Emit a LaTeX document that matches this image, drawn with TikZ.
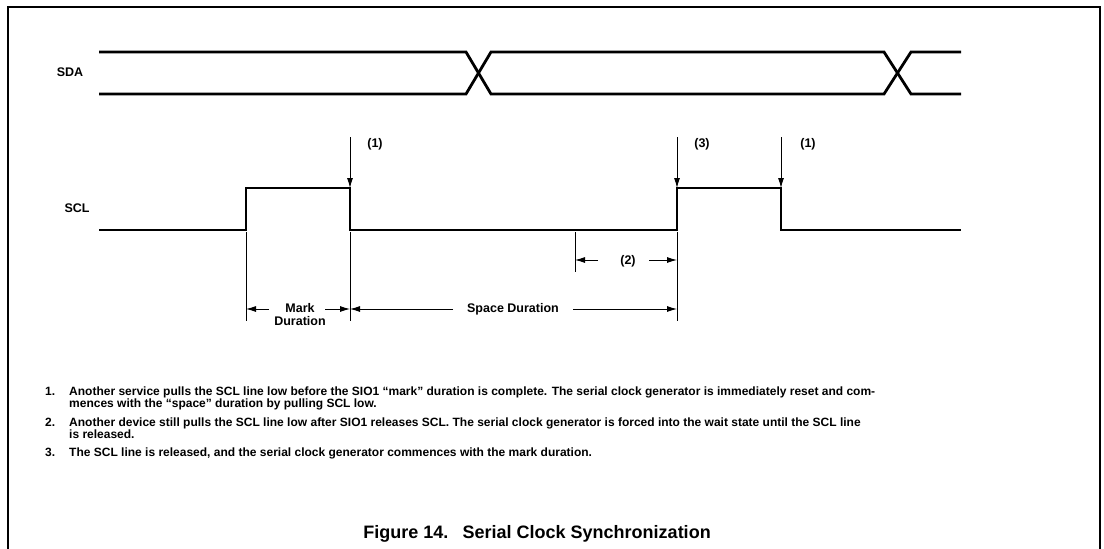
\documentclass[tikz,border=0pt]{standalone}
\usepackage{fontspec}
\setmainfont{Liberation Sans}
\usetikzlibrary{arrows.meta}
\begin{document}
\begin{tikzpicture}[x=1pt,y=-1pt,>={Latex[length=10pt,width=6pt]},
  wave/.style={line width=2.8pt,line join=miter},
  dimline/.style={line width=0.9pt},
  lbl/.style={font=\fontsize{12.5}{13}\selectfont\bfseries,inner sep=0pt},
  note/.style={font=\fontsize{12}{12}\selectfont\bfseries,inner sep=0pt,anchor=north west,align=left}]
\useasboundingbox (0,0) rectangle (1104,549);
\draw[line width=2pt] (8,549) -- (8,7) -- (1100,7) -- (1100,549);
\node[lbl] (sda) at (70,72) {SDA};
\node[lbl] (scl) at (77,208) {SCL};
\draw[wave] (99,52) -- (466,52) -- (491,94) -- (884,94) -- (911,52) -- (961,52);
\draw[wave] (99,94) -- (466,94) -- (491,52) -- (884,52) -- (911,94) -- (961,94);
\coordinate (r1) at (246,188);
\coordinate (f1) at (350,188);
\coordinate (r2) at (677,188);
\coordinate (f2) at (781,188);
\draw[wave] (99,230) -- (246,230) -- (r1) -- (f1) -- (350,230) -- (677,230) -- (r2) -- (f2) -- (781,230) -- (961,230);
\coordinate (p1) at (350,137);
\coordinate (p3) at (677,137);
\coordinate (p4) at (781,137);
\draw[->,dimline] (p1) -- (f1);
\draw[->,dimline] (p3) -- (r2);
\draw[->,dimline] (p4) -- (f2);
\node[lbl] (c1) at (375,144) {(1)};
\node[lbl] (c3) at (702,144) {(3)};
\node[lbl] (c4) at (808,144) {(1)};
\draw[dimline] (246,232) -- (246,321);
\draw[dimline] (350,232) -- (350,321);
\draw[dimline] (677,232) -- (677,321);
\draw[dimline] (575,232) -- (575,272);
\coordinate (mk0) at (246,309);
\coordinate (mk1) at (350,309);
\coordinate (sp1) at (677,309);
\coordinate (w0) at (575,260);
\coordinate (w1) at (677,260);
\node[lbl,align=center] (mark) at (300,315) {Mark\\Duration};
\node[lbl] (space) at (513,309) {Space Duration};
\node[lbl] (wait) at (628,261) {(2)};
\draw[->,dimline] (269,309) -- (mk0);
\draw[->,dimline] (325,309) -- (mk1);
\draw[->,dimline] (453,309) -- (mk1);
\draw[->,dimline] (573,309) -- (sp1);
\draw[->,dimline] (598,260) -- (w0);
\draw[->,dimline] (649,260) -- (w1);
\node[note] (n1) at (45,387) {1.};
\node[note] (t1) at (69,387) {Another service pulls the SCL line low before the SIO1 ``mark'' duration is complete. The serial clock generator is immediately reset and com-\\mences with the ``space'' duration by pulling SCL low.};
\node[note] (n2) at (45,418) {2.};
\node[note] (t2) at (69,418) {Another device still pulls the SCL line low after SIO1 releases SCL. The serial clock generator is forced into the wait state until the SCL line\\is released.};
\node[note] (n3) at (45,448) {3.};
\node[note] (t3) at (69,448) {The SCL line is released, and the serial clock generator commences with the mark duration.};
\node[font=\fontsize{18}{20}\selectfont\bfseries,inner sep=0pt] (cap) at (537,534) {Figure 14.\hspace{0.8em}Serial Clock Synchronization};
\end{tikzpicture}
\end{document}
